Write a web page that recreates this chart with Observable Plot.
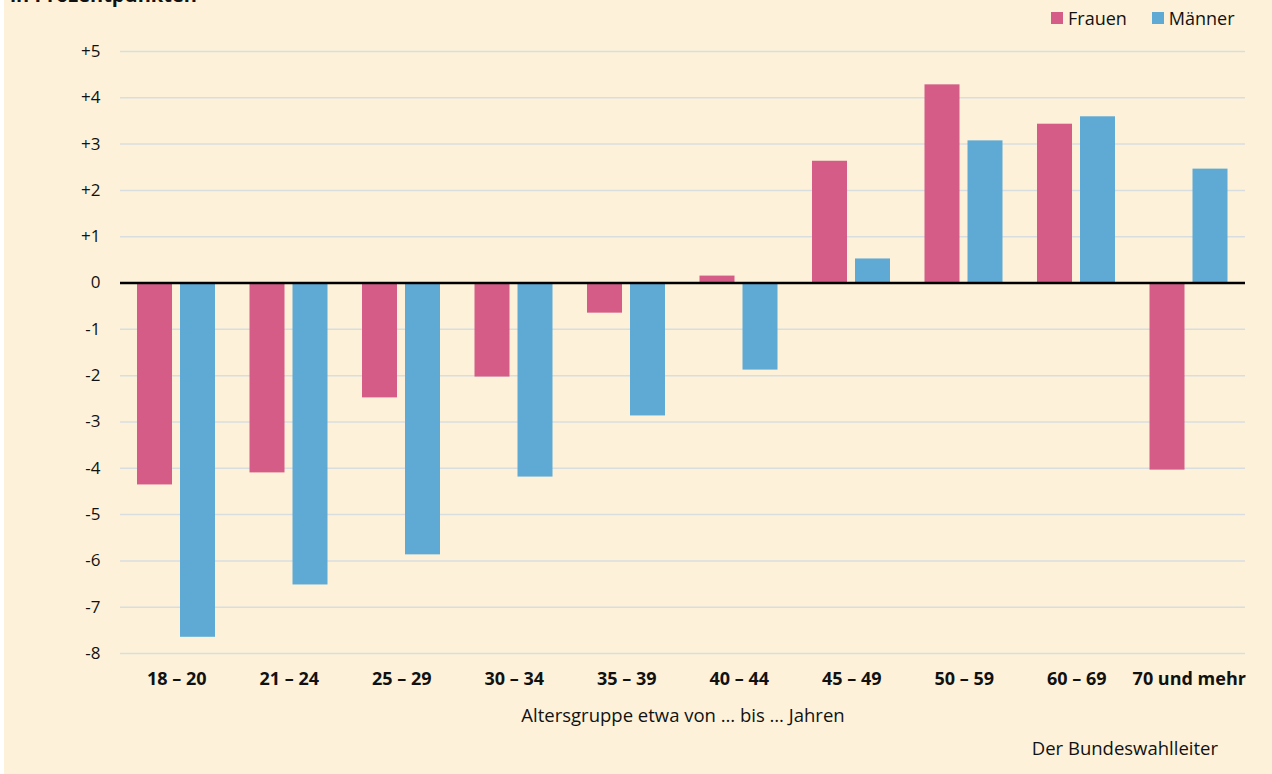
<!DOCTYPE html>
<html>
<head>
<meta charset="utf-8">
<script src="https://cdn.jsdelivr.net/npm/d3@7"></script>
<script src="https://cdn.jsdelivr.net/npm/@observablehq/plot@0.6"></script>
<style>
  html, body { margin: 0; padding: 0; background: #ffffff; }
  #wrap { position: absolute; left: 4px; top: 0; width: 1268px; height: 774px; background: #fdf2d9; overflow: hidden; font-family: "Open Sans", sans-serif; color: #111; }
  #chart { position: absolute; left: -4px; top: 0; }
  #title { position: absolute; left: 6px; top: -15px; font-size: 20px; font-weight: 700; line-height: 20px; white-space: nowrap; }
  #legend { position: absolute; top: 7px; left: 1047px; display: flex; align-items: center; font-size: 18px; line-height: 22px; }
  #legend .sw { display: inline-block; width: 12px; height: 12px; margin-right: 5px; }
  #legend .item { display: flex; align-items: center; margin-right: 25px; }
  #xlabel { position: absolute; top: 702px; left: 0; width: 1358px; text-align: center; font-size: 18.5px; white-space: nowrap; }
  #caption { position: absolute; top: 735px; right: 54px; font-size: 18.5px; white-space: nowrap; }
</style>
</head>
<body>
<div id="wrap">
  <div id="chart"></div>
  <div id="title">in Prozentpunkten</div>
  <div id="legend"></div>
  <div id="xlabel">Altersgruppe etwa von … bis … Jahren</div>
  <div id="caption">Der Bundeswahlleiter</div>
</div>
<script>
const ageGroups = ["18 – 20", "21 – 24", "25 – 29", "30 – 34", "35 – 39", "40 – 44", "45 – 49", "50 – 59", "60 – 69", "70 und mehr"];
const series = ["Frauen", "Männer"];
const frauen = [-4.36, -4.10, -2.48, -2.03, -0.65, 0.15, 2.63, 4.28, 3.43, -4.04];
const maenner = [-7.65, -6.52, -5.87, -4.19, -2.87, -1.88, 0.52, 3.07, 3.59, 2.46];
const colors = ["#d45c87", "#5eaad5"];
const yTicks = [-8, -7, -6, -5, -4, -3, -2, -1, 0, 1, 2, 3, 4, 5];

const frauenData = ageGroups.map((g, i) => ({group: g, sex: series[0], value: frauen[i]}));
const maennerData = ageGroups.map((g, i) => ({group: g, sex: series[1], value: maenner[i]}));

const fmt = d => d > 0 ? "+" + d : String(d);

const chart = Plot.plot({
  width: 1272,
  height: 774,
  marginLeft: 120,
  marginRight: 27,
  marginTop: 51,
  marginBottom: 121,
  style: {background: "transparent", fontFamily: "Open Sans, sans-serif", fontSize: "17px", color: "#111"},
  x: {type: "band", domain: ageGroups, padding: 0, round: false, tickSize: 0, tickPadding: 19, label: null},
  y: {domain: [-8, 5], ticks: yTicks, tickFormat: fmt, tickSize: 0, tickPadding: 20, label: null},
  color: {domain: series, range: colors},
  marks: [
    Plot.ruleY(yTicks.filter(d => d !== 0), {stroke: "#d8dde0", strokeWidth: 1.5}),
    Plot.barY(frauenData, {x: "group", y: "value", fill: "sex", insetLeft: 17, insetRight: 60.5}),
    Plot.barY(maennerData, {x: "group", y: "value", fill: "sex", insetLeft: 60, insetRight: 17.5}),
    Plot.ruleY([0], {stroke: "#000", strokeWidth: 2.5})
  ]
});
document.getElementById("chart").appendChild(chart);

// bold x tick labels
d3.select(chart).selectAll("[aria-label='x-axis tick label'] text").style("font-weight", "700").style("font-size", "18px");

const legend = document.getElementById("legend");
series.forEach((s, i) => {
  const it = document.createElement("div");
  it.className = "item";
  it.innerHTML = `<span class="sw" style="background:${colors[i]}"></span><span>${s}</span>`;
  legend.appendChild(it);
});
</script>
</body>
</html>
